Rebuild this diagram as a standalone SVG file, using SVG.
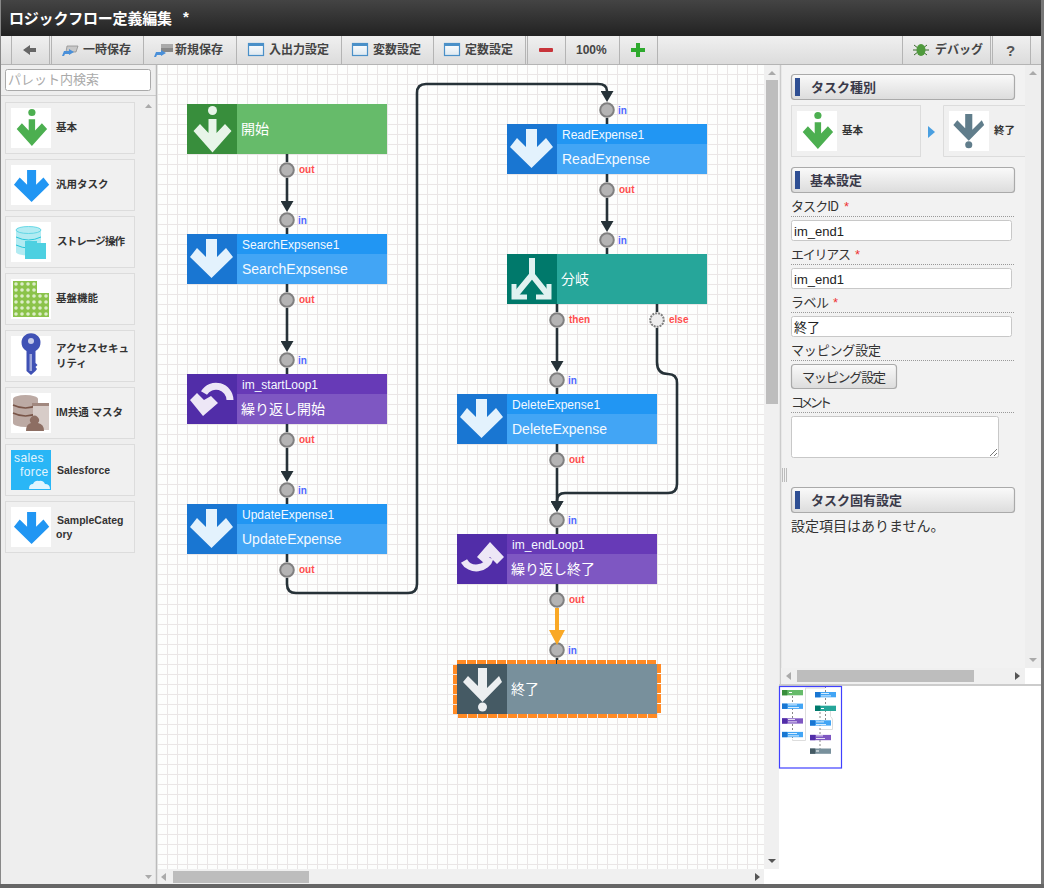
<svg xmlns="http://www.w3.org/2000/svg" width="1044" height="888" viewBox="0 0 1044 888">
<style>
text{font-family:"Liberation Sans","Noto Sans CJK JP",sans-serif}
.cjk{font-family:"Noto Sans CJK JP","Liberation Sans",sans-serif}
.tb{font-size:12px;font-weight:700;fill:#444}
.sep{stroke:#b4b4b4;stroke-width:1;fill:none}
.pal{fill:#f0f0f0;stroke:#dcdcdc;stroke-width:1}
.icb{fill:#fff}
.pl{font-size:10.5px;font-weight:700;fill:#333}
.h1{font-size:12px;fill:#f4f9ff}
.h2{font-size:14px;fill:#f4f9ff}
.cl{font-size:14px;fill:#fff}
.out{font-size:10px;font-weight:700;fill:#ff4d4d}
.in{font-size:10px;font-weight:700;fill:#4d66ff}
.port{fill:#b4b4b4;stroke:#808080;stroke-width:2}
.opt{fill:#eee;stroke:#808080;stroke-width:2;stroke-dasharray:2 1}
.con{fill:none;stroke:#263238;stroke-width:2.6}
.conh{fill:none;stroke:#f9a825;stroke-width:4}
.sh{fill:url(#gh);stroke:#aaa;stroke-width:1.2}
.bar{fill:#2f4f93}
.st{font-size:13px;font-weight:700;fill:#3a3a4a}
.fl{font-size:13px;fill:#333}
.dot{stroke:#999;stroke-width:1;stroke-dasharray:1 1}
.inp{fill:#fff;stroke:#c8c8c8;stroke-width:1}
.it{font-size:13px;fill:#222}
.req{font-size:13px;fill:#e33}
.ar{fill:#aaa}
.ard{fill:#555}
.sel{stroke:#ff8a24;stroke-width:4;stroke-dasharray:9 1;fill:none}
.thumb{fill:#bdbdbd}
.win{fill:url(#gw);stroke:#4a90c8;stroke-width:1.2}
.mb{fill:#fff}
.ml{fill:none;stroke:#ddd;stroke-width:1}
.mp{stroke:#888;stroke-width:1;stroke-dasharray:2 2;fill:none}
</style>
<defs>
<linearGradient id="gt" x1="0" y1="0" x2="0" y2="1"><stop offset="0" stop-color="#444"/><stop offset="1" stop-color="#222"/></linearGradient>
<linearGradient id="gb" x1="0" y1="0" x2="0" y2="1"><stop offset="0" stop-color="#f0f0f0"/><stop offset="1" stop-color="#dcdcdc"/></linearGradient>
<linearGradient id="gh" x1="0" y1="0" x2="0" y2="1"><stop offset="0" stop-color="#fafafa"/><stop offset="1" stop-color="#dcdcdc"/></linearGradient>
<linearGradient id="gw" x1="0" y1="0" x2="0" y2="1"><stop offset="0" stop-color="#fff"/><stop offset="1" stop-color="#dde8f0"/></linearGradient>
<pattern id="grid" x="158" y="65" width="10" height="10" patternUnits="userSpaceOnUse"><rect width="10" height="10" fill="#fdfefd"/><path d="M9.5 0V10M0 9.5H10" stroke="#eae6e6" stroke-width="1" fill="none"/></pattern>
<pattern id="dots" x="13" y="281" width="6" height="6" patternUnits="userSpaceOnUse"><rect width="6" height="6" fill="#8bc34a"/><circle cx="3" cy="3" r="1.8" fill="#dcedc8"/></pattern>
<marker id="ah" viewBox="0 0 11 13" refX="0" refY="6.5" markerUnits="userSpaceOnUse" markerWidth="11" markerHeight="13" orient="auto"><path d="M0 0L11 6.5L0 13Z" fill="#263238"/></marker>
<marker id="ao" viewBox="0 0 15 16" refX="0" refY="8" markerUnits="userSpaceOnUse" markerWidth="15" markerHeight="16" orient="auto"><path d="M0 0L15 8L0 16Z" fill="#f9a825"/></marker>
<g id="dn"><path d="M19 5H30V23L39 14L46 23L24.5 44L3 23L10 14L19 23Z"/></g>
<g id="st"><circle cx="25.5" cy="6.5" r="4.5"/><path d="M21.5 15H29.5V29L38 20L44.5 27L25.5 48.5L6.5 27L13 20L21.5 29Z"/></g>
<g id="en"><path d="M21 4H30V24L42 12L45 18L25.5 38L6 18L11 12L21 22Z"/><circle cx="25.5" cy="43" r="4.5"/></g>
</defs>

<rect width="1044" height="888" fill="#f0f0f0"/>

<g id="titlebar">
<rect x="0" y="0" width="1041" height="36" fill="url(#gt)"/>
<text class="cjk" x="9" y="24" font-size="15" font-weight="700" fill="#fff" textLength="163">ロジックフロー定義編集</text>
<text x="183" y="22" font-size="15" font-weight="700" fill="#fff">*</text>
</g>

<g id="toolbar">
<rect x="1" y="36" width="1040" height="28" fill="url(#gb)"/>
<path class="sep" d="M1 64.5H1041M11.5 36V64M49.5 36V64M51.5 36V64M143.5 36V64M236.5 36V64M341.5 36V64M433.5 36V64M525.5 36V64M527.5 36V64M565.5 36V64M619.5 36V64M657.5 36V64M902.5 36V64M990.5 36V64M992.5 36V64M1030.5 36V64"/>
<path d="M23 50L30 45V48H36V52H30V55Z" fill="#666"/>
<path d="M67 46H78L76 52H66Z" fill="#c8c8c8" stroke="#888" stroke-width=".7"/><path d="M62 56L64 51H69V49L74 52L69 55V54H65L64 56Z" fill="#4a90d9"/>
<text class="tb" x="83" y="54">一時保存</text>
<rect x="161" y="44" width="12" height="4" fill="#aaa"/><rect x="161" y="48" width="12" height="4" fill="#888"/><path d="M154 57L156 52H161V50L166 53L161 56V55H157L156 57Z" fill="#4a90d9"/>
<text class="tb" x="175" y="54">新規保存</text>
<rect class="win" x="248.5" y="43.5" width="15" height="12"/><rect x="248" y="43" width="16" height="3" fill="#4a90c8"/>
<text class="tb" x="269" y="54">入出力設定</text>
<rect class="win" x="352.5" y="43.5" width="15" height="12"/><rect x="352" y="43" width="16" height="3" fill="#4a90c8"/>
<text class="tb" x="373" y="54">変数設定</text>
<rect class="win" x="444.5" y="43.5" width="15" height="12"/><rect x="444" y="43" width="16" height="3" fill="#4a90c8"/>
<text class="tb" x="465" y="54">定数設定</text>
<rect x="539" y="48" width="14" height="4" rx="1" fill="#c8343a"/>
<text class="tb" x="576" y="54" font-size="12">100%</text>
<path d="M636 43H640V48H645V52H640V57H636V52H631V48H636Z" fill="#2eaa2e"/>
<path d="M914 45L927 55M914 55L927 45M913 50H929" stroke="#3a6a2c" stroke-width="1" fill="none"/><ellipse cx="921" cy="50" rx="4.5" ry="6" fill="#4f9a3c"/>
<text class="tb" x="935" y="54">デバッグ</text>
<text x="1006" y="56" font-size="15" font-weight="700" fill="#555">?</text>
</g>

<g id="palette">
<rect x="1" y="65" width="155" height="819" fill="#eee"/>
<rect x="5.5" y="69.5" width="145" height="21" rx="2" fill="#fff" stroke="#aaa"/>
<text class="cjk" x="8" y="84" font-size="13" fill="#aaa">パレット内検索</text>
<path d="M1 95.5H156" stroke="#ccc"/>
<path d="M156.5 65V884" stroke="#bbb" stroke-width="1.5"/>
<path class="ar" d="M145 108L148.5 104L152 108Z"/>
<path class="ar" d="M145 875H152L148.5 879Z"/>
<g id="p1"><rect class="pal" x="5.5" y="102.5" width="129" height="51"/><rect class="icb" x="11" y="108" width="40" height="40"/><use href="#st" transform="translate(11.5 107.3) scale(.8)" fill="#4caf50"/><text class="pl" x="56" y="131">基本</text></g>
<g id="p2"><rect class="pal" x="5.5" y="159.5" width="129" height="51"/><rect class="icb" x="11" y="165" width="40" height="40"/><use href="#dn" transform="translate(11.5 166) scale(.82)" fill="#2196f3"/><text class="pl" x="56" y="188">汎用タスク</text></g>
<g id="p3"><rect class="pal" x="5.5" y="216.5" width="129" height="51"/><rect class="icb" x="11" y="222" width="40" height="40"/>
<rect x="16" y="230" width="25" height="22" fill="#b2ebf2"/><ellipse cx="28.5" cy="252" rx="12.5" ry="3.5" fill="#b2ebf2"/><ellipse cx="28.5" cy="230" rx="12.5" ry="3.5" fill="#b2ebf2" stroke="#4dd0e1" stroke-width=".8"/><path d="M16 237Q28.5 243 41 237M16 245Q28.5 251 41 245" stroke="#26c6da" fill="none"/><path d="M25 243V241H37V243H46V259H25Z" fill="#4dd0e1"/>
<text class="pl" x="57" y="245" textLength="68">ストレージ操作</text></g>
<g id="p4"><rect class="pal" x="5.5" y="273.5" width="129" height="51"/><rect class="icb" x="11" y="279" width="40" height="40"/><path d="M13 281H37V293H49V317H13Z" fill="url(#dots)"/>
<text class="pl" x="56" y="302">基盤機能</text></g>
<g id="p5"><rect class="pal" x="5.5" y="330.5" width="129" height="51"/><rect class="icb" x="11" y="336" width="40" height="40"/>
<path d="M26.5 351A9.5 9.5 0 1 1 35.5 351V363L37.5 365L35.5 367L37 369L35.5 371L31 375L26.5 371Z" fill="#3f51b5"/><circle cx="31" cy="341" r="3" fill="#c5cae9"/><rect x="29.5" y="354" width="2.5" height="17" fill="#9fa8da"/>
<text class="pl" x="56" y="352">アクセスセキュ</text><text class="pl" x="56" y="367">リティ</text></g>
<g id="p6"><rect class="pal" x="5.5" y="387.5" width="129" height="51"/><rect class="icb" x="11" y="393" width="40" height="40"/>
<rect x="13" y="399" width="25" height="24" fill="#bcaaa4"/><ellipse cx="25.5" cy="399" rx="12.5" ry="4" fill="#bcaaa4"/><ellipse cx="25.5" cy="423" rx="12.5" ry="4" fill="#bcaaa4"/><path d="M13 405Q25.5 411 38 405M13 413Q25.5 419 38 413" stroke="#795548" stroke-width="1.5" fill="none"/>
<rect x="33" y="403" width="16" height="27" fill="#d7ccc8"/><rect x="32" y="403" width="17" height="3" fill="#a1887f"/><path d="M26 431Q26 424 31 423A4.5 4.5 0 1 1 38 423Q44 424 44 431Z" fill="#8d6e63"/>
<text class="pl" x="56" y="416">IM共通 マスタ</text></g>
<g id="p7"><rect class="pal" x="5.5" y="444.5" width="129" height="51"/><rect x="11" y="450" width="40" height="40" fill="#29b6f6"/>
<text x="14" y="461.500" font-size="12" letter-spacing=".4" fill="#e1f5fe">sales</text><text x="20" y="475.500" font-size="12" letter-spacing=".4" fill="#e1f5fe">force</text>
<path d="M29 489Q29 484 33 484Q35 480 39 481Q43 480 45 484Q50 484 50 489Z" fill="#e1f5fe"/>
<text class="pl" x="57" y="474" font-size="11">Salesforce</text></g>
<g id="p8"><rect class="pal" x="5.5" y="501.5" width="129" height="51"/><rect class="icb" x="11" y="507" width="40" height="40"/><use href="#dn" transform="translate(11.5 508) scale(.82)" fill="#2196f3"/>
<text class="pl" x="57" y="524" font-size="11">SampleCateg</text><text class="pl" x="56" y="538" font-size="11">ory</text></g>
</g>

<g id="canvas">
<rect x="158" y="65" width="606" height="804" fill="url(#grid)"/>
<rect x="764" y="65" width="15" height="804" fill="#f0f0f0"/>
<rect class="thumb" x="766" y="80" width="12" height="324"/>
<path class="ar" d="M768 75L772 71L776 75Z"/>
<path class="ard" d="M768 859H776L772 863Z"/>
<rect x="158" y="869" width="606" height="15" fill="#f0f0f0"/>
<rect x="764" y="869" width="15" height="15" fill="#fff"/>
<rect class="thumb" x="173" y="871" width="136" height="12"/>
<path class="ar" d="M166 873V881L161 877Z"/>
<path class="ard" d="M755 873V881L760 877Z"/>
</g>

<g id="ports">
<circle class="port" cx="287" cy="170" r="6.8"/><circle class="port" cx="287" cy="220" r="6.8"/>
<circle class="port" cx="287" cy="300" r="6.8"/><circle class="port" cx="287" cy="360" r="6.8"/>
<circle class="port" cx="287" cy="440" r="6.8"/><circle class="port" cx="287" cy="490" r="6.8"/>
<circle class="port" cx="287" cy="570" r="6.8"/>
<circle class="port" cx="607" cy="110" r="6.8"/><circle class="port" cx="607" cy="190" r="6.8"/><circle class="port" cx="607" cy="240" r="6.8"/>
<circle class="port" cx="557" cy="320" r="6.8"/><circle class="opt" cx="657" cy="320" r="6.8"/>
<circle class="port" cx="557" cy="380" r="6.8"/><circle class="port" cx="557" cy="460" r="6.8"/>
<circle class="port" cx="557" cy="520" r="6.8"/><circle class="port" cx="557" cy="600" r="6.8"/><circle class="port" cx="557" cy="650" r="6.8"/>
<text class="out" x="299" y="173">out</text><text class="in" x="298" y="223.5">in</text>
<text class="out" x="299" y="303">out</text><text class="in" x="298" y="363.5">in</text>
<text class="out" x="299" y="443">out</text><text class="in" x="298" y="493.5">in</text>
<text class="out" x="299" y="573">out</text>
<text class="in" x="618" y="113.5">in</text><text class="out" x="619" y="193">out</text><text class="in" x="618" y="243.5">in</text>
<text class="out" x="569" y="323">then</text><text class="out" x="669" y="323">else</text>
<text class="in" x="568" y="383.5">in</text><text class="out" x="569" y="463">out</text>
<text class="in" x="568" y="523.5">in</text><text class="out" x="569" y="603">out</text><text class="in" x="568" y="653.5">in</text>
</g>

<g id="connectors">
<path class="con" d="M287 154V162M287 228V234M287 284V292M287 368V374M287 424V432M287 498V504M287 554V562"/>
<path class="con" d="M607 118V124M607 174V182M607 248V254M557 304V312M657 304V312M557 388V394M557 444V452M557 528V534M557 584V592M557 658V664"/>
<path class="con" marker-end="url(#ah)" d="M287 178V201"/>
<path class="con" marker-end="url(#ah)" d="M287 308V341"/>
<path class="con" marker-end="url(#ah)" d="M287 448V471"/>
<path class="con" marker-end="url(#ah)" d="M287 578V584Q287 593 296 593H408Q417 593 417 584V93Q417 84 426 84H598Q607 84 607 91"/>
<path class="con" marker-end="url(#ah)" d="M607 198V221"/>
<path class="con" marker-end="url(#ah)" d="M557 328V361"/>
<path class="con" marker-end="url(#ah)" d="M557 468V501"/>
<path class="con" marker-end="url(#ah)" d="M657 328V362Q657 374 668 374Q677 374 677 383V484Q677 493 668 493H565Q557 493 557 501"/>
<path class="conh" marker-end="url(#ao)" d="M557 608V630"/>
</g>

<g id="n-start"><rect x="187" y="104" width="200" height="50" fill="#66bb6a"/><rect x="187" y="104" width="50" height="50" fill="#388e3c"/><use href="#st" x="187" y="104" fill="#e8f5e9"/><text class="cl cjk" x="241" y="134">開始</text></g>
<g id="n-search"><rect x="187" y="234" width="200" height="50" fill="#42a5f5"/><rect x="237" y="234" width="150" height="20" fill="#2196f3"/><rect x="187" y="234" width="50" height="50" fill="#1976d2"/><use href="#dn" x="187" y="234" fill="#e3f2fd"/><text class="h1" x="242" y="249">SearchExpsense1</text><text class="h2" x="242" y="274">SearchExpsense</text></g>
<g id="n-startloop"><rect x="187" y="374" width="200" height="50" fill="#7e57c2"/><rect x="237" y="374" width="150" height="20" fill="#673ab7"/><rect x="187" y="374" width="50" height="50" fill="#512da8"/><path d="M230 400A14 14 0 0 0 204 393" fill="none" stroke="#ede7f6" stroke-width="7"/><path d="M190 400L197 393L204 400L211 396L218 403L203 416Z" fill="#ede7f6"/><text class="h1" x="242" y="389">im_startLoop1</text><text class="cl cjk" x="241" y="414">繰り返し開始</text></g>
<g id="n-update"><rect x="187" y="504" width="200" height="50" fill="#42a5f5"/><rect x="237" y="504" width="150" height="20" fill="#2196f3"/><rect x="187" y="504" width="50" height="50" fill="#1976d2"/><use href="#dn" x="187" y="504" fill="#e3f2fd"/><text class="h1" x="242" y="519">UpdateExpense1</text><text class="h2" x="242" y="544">UpdateExpense</text></g>
<g id="n-read"><rect x="507" y="124" width="200" height="50" fill="#42a5f5"/><rect x="557" y="124" width="150" height="20" fill="#2196f3"/><rect x="507" y="124" width="50" height="50" fill="#1976d2"/><use href="#dn" x="507" y="124" fill="#e3f2fd"/><text class="h1" x="562" y="139">ReadExpense1</text><text class="h2" x="562" y="164">ReadExpense</text></g>
<g id="n-branch"><rect x="507" y="254" width="200" height="50" fill="#26a69a"/><rect x="507" y="254" width="50" height="50" fill="#00796b"/><path d="M532 258V275L515.5 295M532 275L548 295" fill="none" stroke="#e0f2f1" stroke-width="6"/><path d="M514 284V297H527M549 284V297H536" fill="none" stroke="#e0f2f1" stroke-width="5"/><text class="cl cjk" x="561" y="284">分岐</text></g>
<g id="n-delete"><rect x="457" y="394" width="200" height="50" fill="#42a5f5"/><rect x="507" y="394" width="150" height="20" fill="#2196f3"/><rect x="457" y="394" width="50" height="50" fill="#1976d2"/><use href="#dn" x="457" y="394" fill="#e3f2fd"/><text class="h1" x="512" y="409">DeleteExpense1</text><text class="h2" x="512" y="434">DeleteExpense</text></g>
<g id="n-endloop"><rect x="457" y="534" width="200" height="50" fill="#7e57c2"/><rect x="507" y="534" width="150" height="20" fill="#673ab7"/><rect x="457" y="534" width="50" height="50" fill="#512da8"/><path d="M464 561A14 13 0 0 0 490 558" fill="none" stroke="#ede7f6" stroke-width="7"/><path d="M477 557L490 542L504 557L497 564L490 557L484 563Z" fill="#ede7f6"/><text class="h1" x="512" y="549">im_endLoop1</text><text class="cl cjk" x="511" y="574">繰り返し終了</text></g>
<g id="n-end"><rect x="457" y="664" width="200" height="50" fill="#78909c"/><rect x="457" y="664" width="50" height="50" fill="#455a64"/><use href="#en" x="457" y="664" fill="#eceff1"/><text class="cl cjk" x="511" y="694">終了</text>
<path class="sel" d="M457 662H657M659 664V714M458 716H657M455 665V714"/></g>

<g id="props">
<rect x="780" y="65" width="261" height="619" fill="#f2f2f2"/>
<path d="M780.5 65V684" stroke="#ccc" stroke-width="1.5"/>
<rect x="1025" y="65" width="16" height="603" fill="#eee"/>
<path class="ar" d="M1029 75L1033 71L1037 75Z"/>
<path class="ar" d="M1029 658H1037L1033 662Z"/>
<rect class="sh" x="791.5" y="74.5" width="223" height="25" rx="3"/><rect class="bar" x="795" y="78" width="5" height="18"/><text class="st cjk" x="811" y="92">タスク種別</text>
<rect class="pal" x="791.5" y="105.5" width="129" height="51"/><rect class="icb" x="797" y="111" width="40" height="40"/><use href="#st" transform="translate(797.5 110.3) scale(.8)" fill="#4caf50"/><text class="pl" x="842" y="134">基本</text>
<path d="M928 126L935 132L928 138Z" fill="#4a9fe0"/>
<path d="M1025 105.5H943.5V156.5H1025" fill="#f0f0f0" stroke="#dcdcdc"/><rect class="icb" x="949" y="111" width="40" height="40"/><use href="#en" transform="translate(948.6 110.8) scale(.79)" fill="#607d8b"/><text class="pl" x="994" y="134">終了</text>
<rect class="sh" x="791.5" y="167.5" width="223" height="25" rx="3"/><rect class="bar" x="795" y="171" width="5" height="18"/><text class="st cjk" x="810" y="185">基本設定</text>
<text class="fl cjk" x="791" y="211" textLength="48">タスクID</text><text class="req" x="844" y="211">*</text>
<path class="dot" d="M791 216.5H1015"/>
<rect class="inp" x="791.5" y="220.5" width="220" height="20" rx="2"/><text class="it" x="794" y="236">im_end1</text>
<text class="fl cjk" x="791" y="259" textLength="60">エイリアス</text><text class="req" x="855" y="259">*</text>
<path class="dot" d="M791 264.5H1015"/>
<rect class="inp" x="791.5" y="268.5" width="220" height="20" rx="2"/><text class="it" x="794" y="284">im_end1</text>
<text class="fl cjk" x="791" y="307" textLength="38">ラベル</text><text class="req" x="833" y="307">*</text>
<path class="dot" d="M791 312.5H1015"/>
<rect class="inp" x="791.5" y="316.5" width="220" height="20" rx="2"/><text class="it cjk" x="794" y="332" font-size="14">終了</text>
<text class="fl cjk" x="791" y="355" textLength="90">マッピング設定</text>
<path class="dot" d="M791 360.5H1015"/>
<rect class="sh" x="791.5" y="364.5" width="105" height="24" rx="3"/><text class="fl cjk" x="802" y="382" textLength="84">マッピング設定</text>
<text class="fl cjk" x="791" y="407" textLength="41">コメント</text>
<path class="dot" d="M791 412.5H1015"/>
<rect class="inp" x="791.5" y="416.5" width="207" height="41" rx="2"/><path d="M990 456L997 449M994 456L997 453" stroke="#777" fill="none"/>
<path d="M782.5 468V482M784.5 468V482M786.5 468V482" stroke="#bbb" fill="none"/>
<rect class="sh" x="791.5" y="487.5" width="223" height="25" rx="3"/><rect class="bar" x="795" y="491" width="5" height="18"/><text class="st cjk" x="811" y="505">タスク固有設定</text>
<text class="cjk" x="791" y="531" font-size="14" fill="#333">設定項目はありません。</text>
<rect x="781" y="668" width="244" height="16" fill="#f0f0f0"/>
<rect x="1025" y="668" width="16" height="16" fill="#fff"/>
<rect class="thumb" x="797" y="670" width="177" height="12"/>
<path class="ar" d="M791 672V680L786 676Z"/>
<path class="ard" d="M1015 672V680L1020 676Z"/>
<path d="M779 685H1041" stroke="#ccc" stroke-width="2"/>
</g>

<g id="overview">
<rect x="779" y="686" width="262" height="198" fill="#fff"/>
<path class="ml" d="M792.5 739V740.5H805.5V688H825M830.5 711V716.500Q832.500 718 832.500 720V729.500H820"/>
<path class="mp" d="M792.500 696V740M825.500 686V720M820 712V749"/>
<rect x="782" y="690" width="21" height="5.3" fill="#66bb6a"/><rect x="782" y="690" width="5.3" height="5.3" fill="#388e3c"/><rect x="789" y="692" width="3" height="1" class="mb"/>
<rect x="782" y="703.6" width="21" height="5.3" fill="#42a5f5"/><rect x="782" y="703.6" width="5.3" height="5.3" fill="#1976d2"/><rect x="788" y="704.5" width="9" height=".8" class="mb"/><rect x="788" y="707" width="11" height=".8" class="mb"/>
<rect x="782" y="718.3" width="21" height="5.3" fill="#7e57c2"/><rect x="782" y="718.3" width="5.3" height="5.3" fill="#512da8"/><rect x="788" y="719" width="7" height=".8" class="mb"/><rect x="788" y="721.5" width="9" height=".8" class="mb"/>
<rect x="782" y="731.9" width="21" height="5.3" fill="#42a5f5"/><rect x="782" y="731.9" width="5.3" height="5.3" fill="#1976d2"/><rect x="788" y="733" width="9" height=".8" class="mb"/><rect x="788" y="735.5" width="11" height=".8" class="mb"/>
<rect x="815" y="692" width="21" height="5.3" fill="#42a5f5"/><rect x="815" y="692" width="5.3" height="5.3" fill="#1976d2"/><rect x="821" y="693" width="8" height=".8" class="mb"/><rect x="821" y="695.5" width="10" height=".8" class="mb"/>
<rect x="815" y="705.7" width="21" height="5.3" fill="#26a69a"/><rect x="815" y="705.7" width="5.3" height="5.3" fill="#00796b"/><rect x="821" y="708" width="3" height="1" class="mb"/>
<rect x="810" y="720.3" width="21" height="5.3" fill="#42a5f5"/><rect x="810" y="720.3" width="5.3" height="5.3" fill="#1976d2"/><rect x="816" y="721.5" width="8" height=".8" class="mb"/><rect x="816" y="724" width="10" height=".8" class="mb"/>
<rect x="810" y="734.9" width="21" height="5.3" fill="#7e57c2"/><rect x="810" y="734.9" width="5.3" height="5.3" fill="#512da8"/><rect x="816" y="735.5" width="7" height=".8" class="mb"/><rect x="816" y="738" width="9" height=".8" class="mb"/>
<rect x="810" y="748.5" width="21" height="5.3" fill="#78909c"/><rect x="810" y="748.5" width="5.3" height="5.3" fill="#455a64"/><rect x="816" y="750.5" width="3" height="1" class="mb"/>
<rect x="779.5" y="686.5" width="62" height="81.5" fill="none" stroke="#4040ff" stroke-width="1.2"/>
</g>

<g id="frame">
<path d="M.5 0V888" stroke="#888"/>
<rect x="1041" y="0" width="3" height="888" fill="#777"/>
<rect x="0" y="884" width="1044" height="4" fill="#666"/>
</g>
</svg>
